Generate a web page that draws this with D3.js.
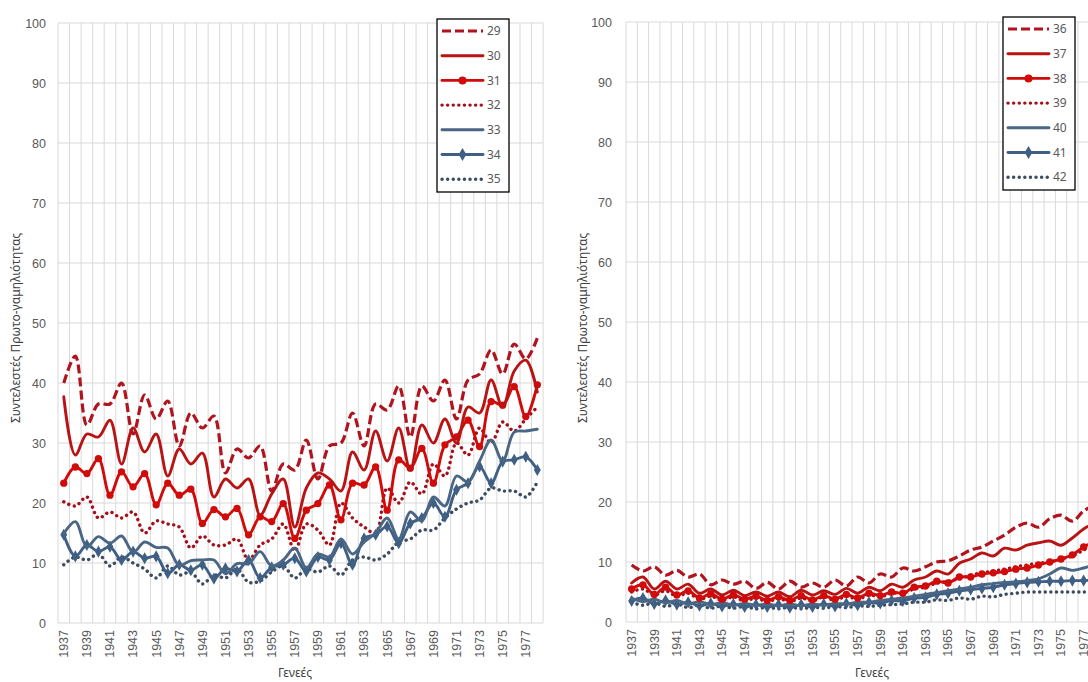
<!DOCTYPE html>
<html>
<head>
<meta charset="utf-8">
<script src="https://cdn.jsdelivr.net/npm/d3@7"></script>
<style>
  html, body { margin: 0; padding: 0; background: #fff; }
  svg { display: block; font-family: "Noto Sans", "Open Sans", sans-serif; }
</style>
</head>
<body>
<svg id="chart" width="1088" height="682"></svg>
<script>
// ---------- DATA ----------
const years = d3.range(1937, 1979);
const yTicks = [0, 10, 20, 30, 40, 50, 60, 70, 80, 90, 100];
const xTickLabels = d3.range(1937, 1979, 2);
const yTitle = "Συντελεστές Πρωτο-γαμηλιότητας";
const xTitle = "Γενεές";

const s29 = [40,44.5,33,36.5,36.5,40,31.5,38,34,37,29.5,35,32.5,34.5,25,29,27.5,29.5,22,26.5,25.5,30.5,24,29.5,30,35,29.5,36.5,35.5,39.5,31,39.5,37,40.5,34,40.5,41.5,45.5,41.5,46.5,44,47.5];
const s30 = [37.7,28,31.5,31,33.8,26.5,32.5,28.5,31.5,24.5,29,26.5,28.3,21,24,22.5,24,18,21.5,24,16,22.5,25,24,22,28.5,25.5,32,27,32.5,25.5,33,30,34,30,36,35,40.5,36,42,43.8,38.5];
const s31 = [23.3,26,24.9,27.4,21.3,25.2,22.7,24.9,19.7,23.3,21.3,22.3,16.6,18.9,17.7,19.1,14.7,17.7,16.9,19.9,14.1,18.8,19.9,23,17.2,23.3,23,26,18.8,27.2,25.8,29.1,23.3,29.7,31,33.8,29.4,36.9,36.3,39.4,34.4,39.7];
const s32 = [20.2,19.5,21,17.5,18.5,17.5,18.5,15,17,16.5,16,12.5,14.5,13,13,14,10.5,13,14,16.5,12,16.5,15.5,13,20,17.5,16,15,22.5,20,23.5,21.5,26.5,24.5,30,28,32.5,30,33.5,32,34,36];
const s33 = [14.9,16.9,12.7,14.4,13.3,14.5,11.8,13.5,12.6,12.5,9.6,10.4,10.5,10.5,8.2,9.9,9.9,11.9,9.5,10.5,12.5,9.2,11.5,11,14,11.5,13.5,15,17.5,14,18.5,17,21,19.5,24.5,23.5,27,30.5,27,31.8,32,32.3];
const s34 = [14.7,11.1,13,11.9,12.7,10.5,11.9,10.8,11.1,8.3,9.7,8.8,9.7,7.4,9.1,8.6,10.5,7.5,9.3,9.7,10.8,8.6,11,10.5,13.3,9.7,14.1,14.7,16.1,13.3,16.6,17.5,20,17.7,22.2,23.3,26.1,23.3,26.9,27.2,27.7,25.5];
const s35 = [9.7,11,10.5,11.5,9.5,11,10,9,7.5,9.5,8,8.5,6.5,8,7.5,9,6.8,7,8.5,9.5,7.5,9,8.5,9.5,8,10.5,11,10.5,11.5,13.5,14,15.5,15.5,17.5,19,20,20.5,22.5,22,22,21,23.5];

const s36 = [9.5,8.5,9.2,7.8,8.6,7.5,8,6.2,7,6.3,6.8,5.6,6.6,5.5,6.8,5.8,6.5,5.8,7,6,7.5,6.5,8,7.5,9,8.5,9.2,10,10.2,11,12,12.5,13.5,14.5,15.8,16.5,15.8,17.2,17.8,16.8,18.5,19.5];
const s37 = [6.5,7.5,5.5,6.8,5.5,6.3,4.8,5.5,4.5,5.3,4.4,5,4.3,5,4.2,5.3,4.5,5.2,4.6,5.6,4.8,5.8,5.2,6.3,5.8,7,7.5,8.5,8,9.8,10.5,11.5,11,12.3,12,12.8,13.2,13.5,12.8,14,15.5,16.5];
const s38 = [5.5,6.2,4.6,5.8,4.5,5.2,4,4.7,3.8,4.5,3.8,4.3,3.6,4.2,3.6,4.4,3.7,4.4,3.8,4.6,4,4.8,4.4,5,4.8,5.8,6,6.8,6.5,7.5,7.5,8,8.2,8.4,8.8,9,9.5,10,10.5,11.2,12.5,13.5];
const s39 = [5,5.5,4.5,5.2,4.3,4.8,3.8,4.3,3.6,4.2,3.5,4,3.4,3.9,3.4,4,3.5,4.2,3.6,4.3,3.8,4.5,4.2,4.8,4.8,5.5,5.8,6.5,6.8,7.2,7.8,8.2,8.5,8.8,9.2,9.5,9.8,10,10.5,11,12,13];
const s40 = [4,3.4,3.8,3.2,3.6,3,3.4,2.9,3.2,2.8,3.1,2.8,3,2.7,3,2.7,3,2.8,3.1,3,3.3,3.3,3.6,3.8,4,4.3,4.6,4.9,5.2,5.5,5.8,6.2,6.4,6.6,6.7,6.9,7.2,8,9,8.6,9,9.6];
const s41 = [3.5,4,3,3.6,2.9,3.3,2.7,3.1,2.6,3,2.5,2.9,2.5,2.9,2.4,2.9,2.5,3,2.6,3.1,2.8,3.3,3.1,3.6,3.5,4,4.1,4.6,4.8,5.2,5.4,5.6,5.8,6.2,6.4,6.6,6.7,6.8,6.8,6.9,6.9,7];
const s42 = [3.3,2.8,3.2,2.6,3,2.4,2.8,2.3,2.7,2.3,2.6,2.2,2.5,2.2,2.5,2.2,2.5,2.3,2.6,2.4,2.7,2.6,2.8,2.9,3,3.3,3.3,3.7,3.6,4,3.8,4.3,4.2,4.6,4.8,5,5,5,5,5,5,5];

const leftNames = ["29","30","31","32","33","34","35"];
const rightNames = ["36","37","38","39","40","41","42"];
const leftValues = [s29, s30, s31, s32, s33, s34, s35];
const rightValues = [s36, s37, s38, s39, s40, s41, s42];

// ---------- STYLES (per position in group) ----------
const styles = [
  {color: "#b0141f", dash: "9,4", width: 3.2, cap: "butt", marker: null},
  {color: "#b81414", dash: null, width: 2.9, cap: "round", marker: null},
  {color: "#d10a0a", dash: null, width: 2.9, cap: "round", marker: "circle"},
  {color: "#a3101c", dash: "0.1,5.5", width: 3.4, cap: "round", marker: null},
  {color: "#4a6685", dash: null, width: 2.9, cap: "round", marker: null},
  {color: "#3f5f85", dash: null, width: 2.9, cap: "round", marker: "diamond"},
  {color: "#3d4b5e", dash: "0.1,5.5", width: 3.4, cap: "round", marker: null}
];

const svg = d3.select("#chart");

function panel(cfg) {
  const g = svg.append("g");
  const x = d3.scaleBand().domain(years).range([cfg.x0, cfg.x0 + cfg.band * years.length]).paddingInner(0).paddingOuter(0);
  const y = d3.scaleLinear().domain([0, 100]).range([cfg.yBottom, cfg.yTop]);
  const cx = d => x(d) + x.bandwidth() / 2;

  // horizontal gridlines
  g.append("g").selectAll("line").data(yTicks).join("line")
    .attr("x1", cfg.x0).attr("x2", cfg.x0 + cfg.band * years.length)
    .attr("y1", d => y(d)).attr("y2", d => y(d))
    .attr("stroke", "#d9d9d9").attr("stroke-width", 1);
  // vertical gridlines at category boundaries
  const bounds = years.map(d => x(d)).concat([x(years[years.length - 1]) + x.bandwidth()]);
  g.append("g").selectAll("line").data(bounds).join("line")
    .attr("x1", d => d).attr("x2", d => d)
    .attr("y1", y(100)).attr("y2", y(0))
    .attr("stroke", "#d9d9d9").attr("stroke-width", 1);

  // y axis
  const ya = d3.axisLeft(y).tickValues(yTicks).tickSize(0).tickPadding(0);
  const yg = g.append("g").attr("transform", `translate(${cfg.yLabelX},0)`).call(ya);
  yg.select(".domain").remove();
  yg.selectAll("text").attr("fill", "#595959").style("font-size", "12.5px");

  // x axis
  const xa = d3.axisBottom(x).tickValues(xTickLabels).tickSize(0).tickPadding(0);
  const xg = g.append("g").attr("transform", `translate(0,${y(0)})`).call(xa);
  xg.select(".domain").remove();
  xg.selectAll("text")
    .attr("fill", "#595959").style("font-size", "12.5px")
    .attr("transform", "rotate(-90)")
    .attr("text-anchor", "end")
    .attr("x", -7).attr("y", 0).attr("dy", "0.35em");

  // titles
  g.append("text").attr("transform", `translate(${cfg.titleX},${cfg.titleY}) rotate(-90)`)
    .attr("text-anchor", "middle").attr("fill", "#404040").style("font-size", "12px")
    .text(yTitle);
  g.append("text").attr("x", cfg.xTitleX).attr("y", 677)
    .attr("text-anchor", "middle").attr("fill", "#404040").style("font-size", "12px")
    .text(xTitle);

  // series
  const line = d3.line().x((d, i) => cx(years[i])).y(d => y(d)).curve(d3.curveCatmullRom.alpha(0.5));
  const order = [6, 3, 5, 4, 2, 1, 0];
  order.forEach(k => {
    const vals = cfg.values[k];
    const st = styles[k];
    g.append("path").datum(vals)
      .attr("d", line)
      .attr("fill", "none")
      .attr("stroke", st.color)
      .attr("stroke-width", st.width)
      .attr("stroke-linecap", st.cap)
      .attr("stroke-linejoin", "round")
      .attr("stroke-dasharray", st.dash);
    if (st.marker) {
      const sym = d3.symbol().type(st.marker === "circle" ? d3.symbolCircle : d3.symbolDiamond).size(st.marker === "circle" ? 42 : 42);
      g.append("g").selectAll("path").data(vals).join("path")
        .attr("transform", (d, i) => `translate(${cx(years[i])},${y(d)})`)
        .attr("d", sym)
        .attr("fill", st.color);
    }
  });

  // legend
  const lg = g.append("g");
  lg.append("rect").attr("x", cfg.legX).attr("y", cfg.legY).attr("width", cfg.legW).attr("height", cfg.legH)
    .attr("fill", "#fff").attr("stroke", "#000").attr("stroke-width", 1.3);
  cfg.names.forEach((n, k) => {
    const st = styles[k];
    const yy = cfg.legY + 12 + k * 24.7;
    const x1 = cfg.legX + 5, x2 = cfg.legX + 46;
    lg.append("line").attr("x1", x1).attr("x2", x2).attr("y1", yy).attr("y2", yy)
      .attr("stroke", st.color).attr("stroke-width", st.width)
      .attr("stroke-linecap", st.cap).attr("stroke-dasharray", st.dash);
    if (st.marker) {
      const sym = d3.symbol().type(st.marker === "circle" ? d3.symbolCircle : d3.symbolDiamond).size(50);
      lg.append("path").attr("transform", `translate(${(x1 + x2) / 2},${yy})`).attr("d", sym).attr("fill", st.color);
    }
    lg.append("text").attr("x", x2 + 4).attr("y", yy).attr("dy", "0.35em")
      .attr("fill", "#595959").style("font-size", "12px").text(n);
  });
}

panel({
  x0: 58, band: 11.55, yTop: 23, yBottom: 623, yLabelX: 46,
  titleX: 20, titleY: 328, xTitleX: 295,
  legX: 437, legY: 19, legW: 72, legH: 173,
  names: leftNames, values: leftValues
});
panel({
  x0: 626, band: 11.3, yTop: 22, yBottom: 622, yLabelX: 612,
  titleX: 587, titleY: 328, xTitleX: 872,
  legX: 1003, legY: 17, legW: 72, legH: 173,
  names: rightNames, values: rightValues
});
</script>
</body>
</html>
